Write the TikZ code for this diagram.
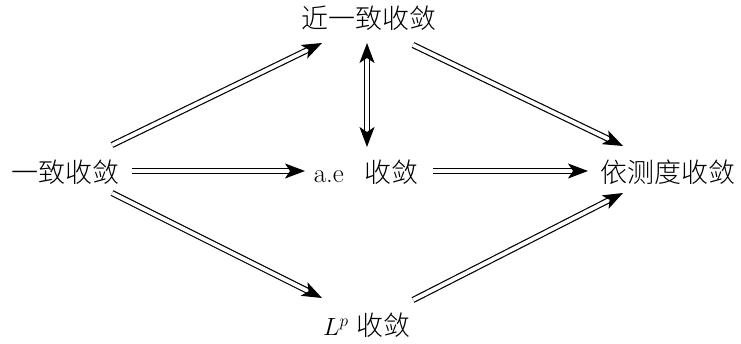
\documentclass[tikz,border=0pt]{standalone}
\usepackage{fontspec}
\newfontfamily\cjk{Noto Sans CJK SC Light}
\usetikzlibrary{arrows.meta,calc}
\begin{document}
\begin{tikzpicture}[x=1pt,y=-1pt,
  lbl/.style={inner sep=0pt,font=\fontsize{27}{30}\selectfont},
  imp/.style={double,double distance=3.8pt,line width=1.2pt,-{Stealth[length=20pt,width=15pt,inset=5pt]}},
  impb/.style={double,double distance=3.8pt,line width=1.2pt,{Stealth[length=20pt,width=15pt,inset=5pt]}-{Stealth[length=20pt,width=15pt,inset=5pt]}}]
\useasboundingbox (0,0) rectangle (741,343);
\node[lbl] (A) at (65,172) {\cjk 一致收敛};
\node[lbl] (T) at (369,18) {\cjk 近一致收敛};
\node[lbl] (C) at (366,172) {a.e\hspace{0.75em}{\cjk 收敛}};
\node[lbl] (R) at (668,172) {\cjk 依测度收敛};
\node[lbl] (B) at (367,325) {$L^p$\hspace{0.3em}{\cjk 收敛}};
\draw[imp] ($(A)+(47,-27)$) -- ($(T)+(-47,25)$);
\draw[imp] ($(A)+(67,-1)$) -- ($(C)+(-61,-1)$);
\draw[imp] ($(A)+(47,21)$) -- ($(B)+(-45,-27)$);
\draw[impb] ($(T)+(-2,25)$) -- ($(C)+(1,-25)$);
\draw[imp] ($(T)+(44,27)$) -- ($(R)+(-45,-26)$);
\draw[imp] ($(C)+(67,-1)$) -- ($(R)+(-80,-1)$);
\draw[imp] ($(B)+(46,-25)$) -- ($(R)+(-45,21)$);
\end{tikzpicture}
\end{document}
